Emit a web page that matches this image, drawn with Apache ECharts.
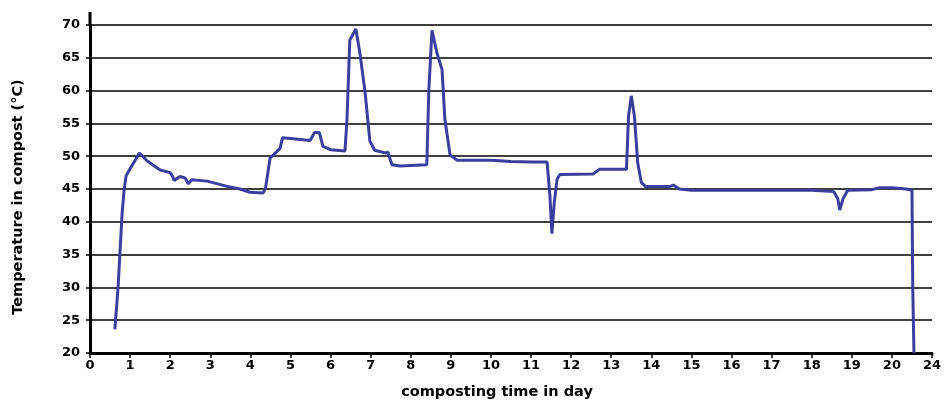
<!DOCTYPE html>
<html><head><meta charset="utf-8">
<script src="https://cdn.jsdelivr.net/npm/echarts@6/dist/echarts.min.js"></script>
<style>html,body{margin:0;padding:0;background:#fff}#c{width:946px;height:405px}</style>
</head><body><div id="c"></div>
<script>
const days = [0.62,0.70,0.80,0.85,0.90,1.04,1.15,1.23,1.42,1.75,2.00,2.06,2.10,2.24,2.37,2.45,2.54,2.92,3.42,3.74,3.99,4.32,4.38,4.49,4.66,4.74,4.80,5.00,5.49,5.60,5.72,5.81,6.00,6.36,6.41,6.48,6.63,6.73,6.86,6.98,7.10,7.36,7.43,7.53,7.73,8.40,8.45,8.53,8.65,8.78,8.85,8.98,9.15,10.0,10.5,11.0,11.40,11.47,11.52,11.58,11.65,11.72,12.55,12.70,13.38,13.43,13.50,13.58,13.66,13.75,13.85,14.47,14.55,14.70,15.0,16.0,17.0,18.0,18.55,18.65,18.70,18.78,18.90,19.5,19.7,20.0,20.35,20.5,20.52,20.55];
const temps = [23.6,30,41.2,44.8,47.0,48.5,49.6,50.5,49.3,47.9,47.5,46.9,46.3,46.9,46.7,45.8,46.4,46.2,45.4,45.0,44.5,44.4,45.2,49.7,50.7,51.2,52.8,52.7,52.4,53.6,53.6,51.5,51.0,50.8,55.7,67.7,69.4,65.8,59.8,52.3,50.9,50.5,50.6,48.7,48.5,48.7,60,69.2,65.8,63.2,55.7,50.2,49.4,49.4,49.2,49.1,49.1,44,38.2,43,46.5,47.2,47.3,48.0,48.0,56,59.2,56,49,46,45.4,45.4,45.6,45.0,44.8,44.8,44.8,44.8,44.6,43.5,41.8,43.5,44.8,44.9,45.2,45.2,45.0,44.8,30,20];
const xTickLabels = ['0','1','2','3','4','5','6','7','8','9','10','11','12','13','14','15','16','17','18','19','20','24'];
const yTicks = [20,25,30,35,40,45,50,55,60,65,70];

const chart = echarts.init(document.getElementById('c'));
const font = 'DejaVu Sans';
chart.setOption({
  animation:false,
  backgroundColor:'#fff',
  grid:{left:90,right:14,top:25,bottom:47},
  xAxis:{
    type:'value',min:0,max:xTickLabels.length-1,interval:1,
    name:'composting time in day',nameLocation:'middle',nameGap:32,
    nameTextStyle:{fontFamily:font,fontWeight:'bold',fontSize:14.5,color:'#000',padding:[0,28,0,0]},
    axisLine:{lineStyle:{color:'#000',width:3}},
    axisTick:{show:true,length:5,lineStyle:{color:'#000',width:1.5}},
    axisLabel:{fontFamily:font,fontWeight:'bold',fontSize:13,color:'#000',margin:6,
      formatter:(v)=>xTickLabels[Math.round(v)]},
    splitLine:{show:false}
  },
  yAxis:{
    type:'value',min:yTicks[0],max:yTicks[yTicks.length-1],interval:5,
    name:'Temperature in compost (°C)',nameLocation:'middle',nameGap:64,
    nameTextStyle:{fontFamily:font,fontWeight:'bold',fontSize:14.5,color:'#000',padding:[0,16,0,0]},
    axisLine:{show:true,lineStyle:{color:'#000',width:3}},
    axisTick:{show:true,length:4,lineStyle:{color:'#000',width:1.5}},
    axisLabel:{fontFamily:font,fontWeight:'bold',fontSize:13,color:'#000',margin:10},
    splitLine:{show:true,lineStyle:{color:'#000',width:1.5}}
  },
  series:[{
    type:'line',data:days.map((d,i)=>[d,temps[i]]),
    showSymbol:false,smooth:false,
    lineStyle:{color:'#3a3e9c',width:3},
    itemStyle:{color:'#3a3e9c'},z:5
  }]
});
const p0 = chart.convertToPixel({gridIndex:0},[0,yTicks[yTicks.length-1]]);
chart.setOption({graphic:[{type:'line',shape:{x1:p0[0],y1:p0[1],x2:p0[0],y2:p0[1]-13},style:{stroke:'#000',lineWidth:3}}]});
</script></body></html>
